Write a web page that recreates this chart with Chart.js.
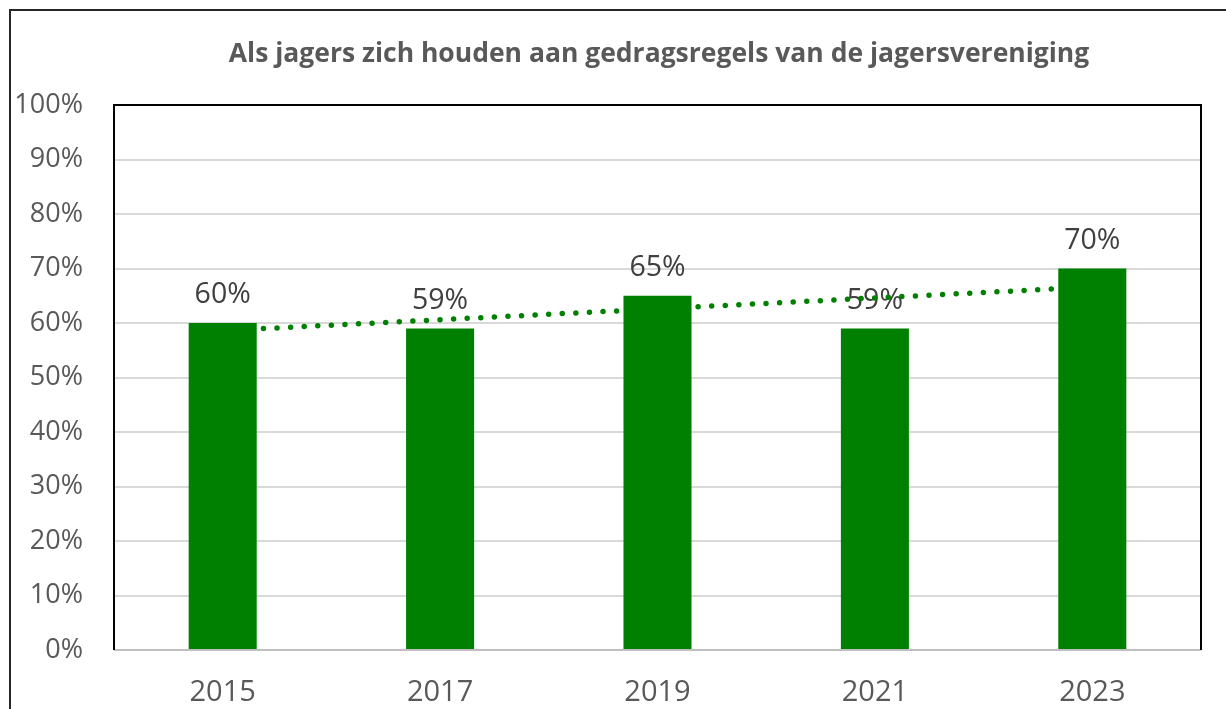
<!DOCTYPE html>
<html>
<head>
<meta charset="utf-8">
<script src="https://cdn.jsdelivr.net/npm/chart.js@4"></script>
<style>
  html, body { margin: 0; padding: 0; background: #fff; }
  #wrap { width: 1226px; height: 709px; }
</style>
</head>
<body>
<div id="wrap"><canvas id="chart" width="1226" height="709"></canvas></div>
<script>
// Survey results per year
const years = ['2015', '2017', '2019', '2021', '2023'];
const shares = [60, 59, 65, 59, 70];
const yTicks = [0, 10, 20, 30, 40, 50, 60, 70, 80, 90, 100];
const chartTitle = 'Als jagers zich houden aan gedragsregels van de jagersvereniging';

const barGreen = '#008000';
const textGray = '#595959';
const FONT = '"Open Sans", "DejaVu Sans", sans-serif';

// linear trend (least squares) over the bar values
function linearTrend(values) {
  const n = values.length;
  const mx = (n - 1) / 2;
  const my = values.reduce((a, b) => a + b, 0) / n;
  let num = 0, den = 0;
  values.forEach((v, i) => { num += (i - mx) * (v - my); den += (i - mx) * (i - mx); });
  const slope = num / den;
  return values.map((v, i) => my + slope * (i - mx));
}
const trend = linearTrend(shares);

// outer chart frame, title, and the plot area frame
const framePlugin = {
  id: 'frames',
  beforeDraw(chart) {
    const ctx = chart.ctx;
    ctx.save();
    ctx.strokeStyle = '#262626';
    ctx.lineWidth = 2;
    ctx.beginPath();
    ctx.moveTo(10, chart.height + 5);
    ctx.lineTo(10, 10);
    ctx.lineTo(chart.width + 5, 10);
    ctx.stroke();

    // the outer frame runs past the right edge, so the title sits right of canvas centre
    ctx.font = 'bold 26.5px ' + FONT;
    ctx.fillStyle = textGray;
    ctx.textAlign = 'center';
    ctx.textBaseline = 'middle';
    ctx.fillText(chartTitle, 659, 54);
    ctx.restore();
  },
  afterDraw(chart) {
    const { left, right, top, bottom } = chart.chartArea;
    const ctx = chart.ctx;
    ctx.save();
    ctx.lineWidth = 2;
    ctx.strokeStyle = '#bfbfbf';
    ctx.beginPath();
    ctx.moveTo(left, bottom);
    ctx.lineTo(right, bottom);
    ctx.stroke();
    ctx.strokeStyle = '#000';
    ctx.beginPath();
    ctx.moveTo(left, bottom);
    ctx.lineTo(left, top);
    ctx.lineTo(right, top);
    ctx.lineTo(right, bottom);
    ctx.stroke();
    ctx.restore();
  }
};

// value labels above the bars, drawn before the datasets so the trend dots sit on top
const valueLabels = {
  id: 'valueLabels',
  beforeDatasetsDraw(chart) {
    const meta = chart.getDatasetMeta(0);
    const ctx = chart.ctx;
    ctx.save();
    ctx.font = '28.5px ' + FONT;
    ctx.fillStyle = '#404040';
    ctx.textAlign = 'center';
    ctx.textBaseline = 'middle';
    meta.data.forEach((bar, i) => {
      ctx.fillText(shares[i] + '%', bar.x, bar.y - 28);
    });
    ctx.restore();
  }
};

new Chart(document.getElementById('chart'), {
  type: 'bar',
  data: {
    labels: years,
    datasets: [
      {
        label: 'Aandeel',
        data: shares,
        backgroundColor: barGreen,
        categoryPercentage: 1,
        barPercentage: 0.313,
        order: 0
      },
      {
        type: 'line',
        label: 'Trend',
        data: trend,
        borderColor: barGreen,
        borderWidth: 5.5,
        borderDash: [0, 13.6],
        borderCapStyle: 'round',
        pointRadius: 0,
        fill: false,
        order: 1
      }
    ]
  },
  options: {
    responsive: false,
    animation: false,
    layout: { padding: { left: 0, right: 25, top: 105, bottom: 0 } },
    plugins: {
      legend: { display: false },
      tooltip: { enabled: false },
      title: { display: false }
    },
    scales: {
      x: {
        grid: { display: false, drawTicks: false },
        border: { display: false },
        ticks: { color: textGray, font: { family: FONT, size: 29 }, padding: 25 },
        afterFit(scale) { scale.height = 59; }
      },
      y: {
        min: 0,
        max: 100,
        afterBuildTicks(scale) { scale.ticks = yTicks.map(v => ({ value: v })); },
        grid: { color: '#d9d9d9', lineWidth: 2, drawTicks: false },
        border: { display: false },
        ticks: {
          color: textGray,
          font: { family: FONT, size: 27 },
          padding: 31,
          callback: v => v + '%'
        },
        afterFit(scale) { scale.width = 114; }
      }
    }
  },
  plugins: [framePlugin, valueLabels]
});
</script>
</body>
</html>
